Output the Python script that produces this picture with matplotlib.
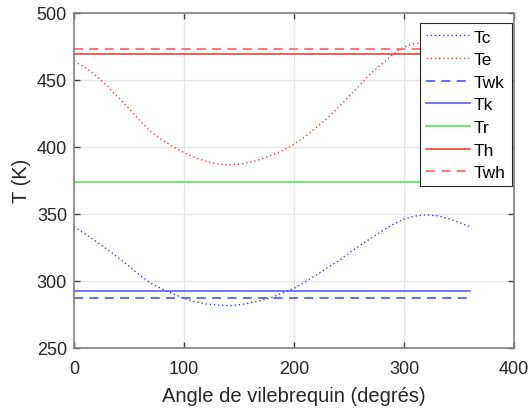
import matplotlib
matplotlib.use("Agg")
import matplotlib.pyplot as plt
import numpy as np

plt.rcParams['font.family'] = ['Liberation Sans', 'DejaVu Sans']

angle = list(range(0, 361, 10))
Tc = [340.3, 335.0, 329.3, 323.5, 317.3, 310.8, 304.0, 298.0, 293.8, 290.2,
      286.9, 284.3, 282.7, 281.8, 281.4, 282.0, 283.4, 285.2, 287.6, 291.0,
      294.3, 299.0, 304.0, 309.5, 314.5, 320.6, 326.3, 331.7, 337.0, 342.0,
      346.0, 348.3, 349.2, 348.5, 346.5, 343.5, 340.3]
Te = [463.7, 459.3, 452.9, 445.5, 437.1, 428.4, 419.3, 411.0, 405.0, 400.0,
      395.6, 391.9, 389.0, 387.2, 386.4, 386.9, 388.4, 390.6, 393.8, 397.3,
      401.8, 407.5, 414.3, 421.0, 429.0, 437.6, 446.0, 455.0, 461.7, 469.0,
      474.4, 477.0, 478.2, 477.5, 475.0, 470.0, 463.7]
Twk = 287.3
Tk = 292.6
Tr = 373.9
Th = 469.0
Twh = 472.9

labels = ['Tc', 'Te', 'Twk', 'Tk', 'Tr', 'Th', 'Twh']
xticks = [0, 100, 200, 300, 400]
yticks = [250, 300, 350, 400, 450, 500]

fig = plt.figure(figsize=(5.31, 4.10), dpi=100)
ax = fig.add_axes([74/531, 1-348.7/410, 440/531, 335/410])

a = np.array(angle)
ones = np.ones_like(a, dtype=float)
ax.plot(a, Tc, color='#3a3aff', linestyle=(0, (1, 2)), lw=1.0, label=labels[0])
ax.plot(a, Te, color='#ff3a3a', linestyle=(0, (1, 2)), lw=1.0, label=labels[1])
ax.plot(a, Twk*ones, color='#5c5cff', linestyle=(0, (5, 3.5)), lw=1.3, label=labels[2])
ax.plot(a, Tk*ones, color='#5c5cff', linestyle='-', lw=1.2, label=labels[3])
ax.plot(a, Tr*ones, color='#5cef5c', linestyle='-', lw=1.3, label=labels[4])
ax.plot(a, Th*ones, color='#ff2a2a', linestyle='-', lw=1.1, label=labels[5])
ax.plot(a, Twh*ones, color='#ff6a6a', linestyle=(0, (5, 3.5)), lw=1.3, label=labels[6])

ax.set_xlim(0, 400)
ax.set_ylim(250, 500)
ax.set_xticks(xticks)
ax.set_yticks(yticks)
ax.grid(True, color='#e6e6e6', linewidth=1.0)
ax.set_axisbelow(True)
for s in ax.spines.values():
    s.set_color('#808080')
    s.set_linewidth(1.2)
ax.tick_params(direction='in', top=True, right=True, length=4, width=1.0,
               color='#404040', labelsize=13, labelcolor='#262626')
ax.tick_params(axis='x', pad=9)
ax.tick_params(axis='y', pad=5)
ax.set_xlabel('Angle de vilebrequin (degrés)', fontsize=14.5, color='#262626', labelpad=6)
ax.set_ylabel('T (K)', fontsize=14.5, color='#262626', labelpad=4)

leg = ax.legend(loc='upper right', fontsize=12.5, frameon=True, fancybox=False,
                handlelength=2.5, borderaxespad=0, labelspacing=0.43,
                handletextpad=0.25, borderpad=0.35,
                bbox_to_anchor=(512/531, 1-24.3/410), bbox_transform=fig.transFigure)
leg.get_frame().set_edgecolor('#262626')
leg.get_frame().set_linewidth(0.8)
leg.get_frame().set_alpha(1.0)

fig.savefig('out.png', dpi=100)
